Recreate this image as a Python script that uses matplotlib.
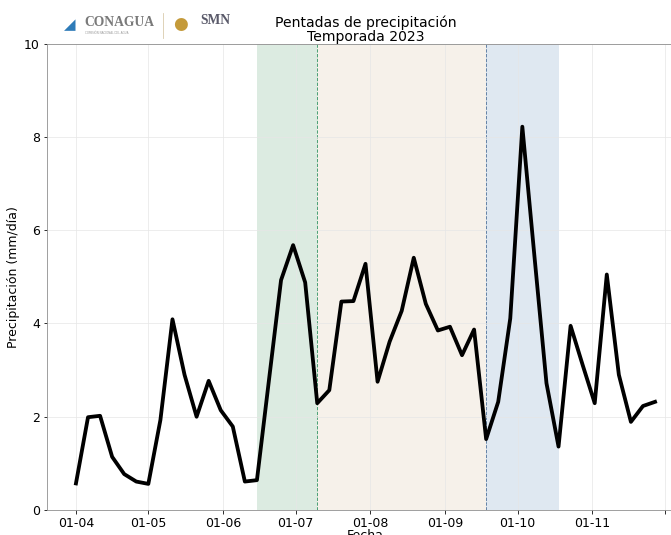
import matplotlib
matplotlib.use("Agg")
import matplotlib.pyplot as plt
import pandas as pd

# pentadas desde el 1 de abril de 2023
start_date = "2023-04-01"
precip = [0.57, 1.99, 2.02, 1.14, 0.77, 0.61, 0.56, 1.93, 4.09, 2.90,
          2.00, 2.77, 2.14, 1.79, 0.61, 0.64, 2.79, 4.93, 5.68, 4.88,
          2.29, 2.57, 4.47, 4.48, 5.28, 2.75, 3.61, 4.27, 5.41, 4.42,
          3.85, 3.93, 3.32, 3.87, 1.52, 2.32, 4.11, 8.22, 5.45, 2.72,
          1.36, 3.95, 3.11, 2.29, 5.05, 2.90, 1.89, 2.23, 2.32]

# periodos sombreados (indices de pentada)
green_span = (15, 20)
beige_span = (20, 34)
blue_span = (34, 40)

fechas = pd.date_range(start_date, periods=len(precip), freq="5D")

W, H, DPI = 671, 535, 72
fig = plt.figure(figsize=(W / DPI, H / DPI), dpi=DPI, facecolor="white")
ax = fig.add_axes([47 / W, 25 / H, (684 - 47) / W, (510 - 43.7) / H])

ax.axvspan(fechas[green_span[0]], fechas[green_span[1]], color="#dcebe1", lw=0, zorder=0)
ax.axvspan(fechas[beige_span[0]], fechas[beige_span[1]], color="#f6f1ea", lw=0, zorder=0)
ax.axvspan(fechas[blue_span[0]], fechas[blue_span[1]], color="#dfe8f1", lw=0, zorder=0)
ax.axvline(fechas[green_span[1]], color="#3c9a6c", ls="--", lw=0.9, zorder=1)
ax.axvline(fechas[blue_span[0]], color="#5a7aa0", ls="--", lw=0.9, zorder=1)

ax.plot(fechas, precip, color="black", lw=3.8, zorder=3)

ax.set_ylim(0, 10)
ax.set_yticks([0, 2, 4, 6, 8, 10])
ax.margins(x=0.05)
ticks = pd.date_range("2023-04-01", "2023-12-01", freq="MS")
ax.set_xticks(ticks)
ax.set_xticklabels([t.strftime("%d-%m") for t in ticks[:-1]] + [""])
ax.tick_params(labelsize=12.5, colors="black")
ax.grid(True, color="#e6e6e6", lw=0.7, zorder=0)
for s in ax.spines.values():
    s.set_color("#8a8a8a")

ax.set_xlabel("Fecha", fontsize=12.5, labelpad=-1)
ax.set_ylabel("Precipitación (mm/día)", fontsize=12.5)
ax.set_title("Pentadas de precipitación\nTemporada 2023", fontsize=14,
             linespacing=1.0, pad=2)

# logotipos como texto
fig.text(84 / W, 1 - 22 / H, "CONAGUA", fontsize=13.5, family="Liberation Serif",
         color="#7a7a7a", va="center", weight="bold")
fig.text(85 / W, 1 - 33 / H, "COMISIÓN NACIONAL DEL AGUA", fontsize=2.8,
         color="#9a9a9a", va="center")
fig.text(64 / W, 1 - 25 / H, "◢", fontsize=15, color="#2e7bb8", va="center")
fig.add_artist(plt.Line2D([163 / W, 163 / W], [1 - 13 / H, 1 - 38 / H],
                          color="#d8c8a8", lw=0.8))
fig.text(173 / W, 1 - 24 / H, "●", fontsize=17, color="#c49a3a", va="center")
fig.text(200 / W, 1 - 21 / H, "SMN", fontsize=13.5, family="Liberation Serif",
         color="#5a5a6a", va="center", weight="bold")

fig.savefig("out.png", dpi=DPI, facecolor="white")
